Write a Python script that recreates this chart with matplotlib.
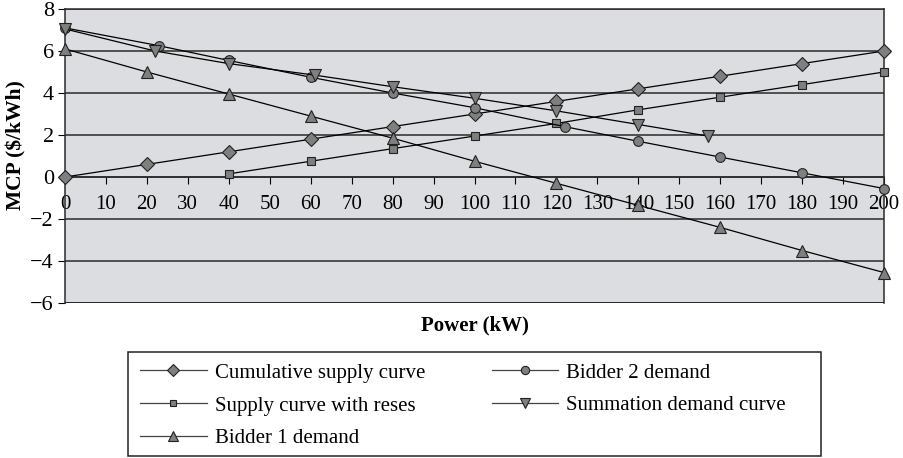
import matplotlib
matplotlib.use("Agg")
import matplotlib.pyplot as plt
from matplotlib.patches import Rectangle

plt.rcParams["font.family"] = ["Liberation Serif", "DejaVu Serif"]

# Curves of market clearing price vs power
cum_x = [0, 20, 40, 60, 80, 100, 120, 140, 160, 180, 200]
cum_y = [0.0, 0.6, 1.2, 1.8, 2.4, 3.0, 3.6, 4.2, 4.8, 5.4, 6.0]

reses_x = [40, 60, 80, 100, 120, 140, 160, 180, 200]
reses_y = [0.15, 0.75, 1.35, 1.95, 2.55, 3.2, 3.8, 4.4, 5.0]

b1_x = [0, 20, 40, 60, 80, 100, 120, 140, 160, 180, 200]
b1_y = [6.1, 5.0, 3.95, 2.9, 1.85, 0.75, -0.3, -1.35, -2.4, -3.5, -4.55]

b2_x = [0, 23, 40, 60, 80, 100, 122, 140, 160, 180, 200]
b2_y = [7.1, 6.25, 5.55, 4.75, 4.0, 3.3, 2.4, 1.7, 0.95, 0.2, -0.55]

sum_x = [0, 22, 40, 61, 80, 100, 120, 140, 157]
sum_y = [7.05, 6.0, 5.4, 4.85, 4.3, 3.75, 3.15, 2.5, 1.95]

x_ticks = list(range(0, 201, 10))
y_ticks = [-6, -4, -2, 0, 2, 4, 6, 8]

W, H = 904, 458
fig = plt.figure(figsize=(W / 100, H / 100), dpi=100)
ax = fig.add_axes([65 / W, 1 - 303 / H, 819 / W, 294 / H])
ax.set_facecolor("#dcdde0")

mk = dict(color="black", lw=0.9, markerfacecolor="#7f7f7f",
          markeredgecolor="#222222", markeredgewidth=0.8, clip_on=False, zorder=3)
l_cum, = ax.plot(cum_x, cum_y, marker="D", ms=7.5, label="Cumulative supply curve", **mk)
l_res, = ax.plot(reses_x, reses_y, marker="s", ms=5.5, label="Supply curve with reses", **mk)
l_b1, = ax.plot(b1_x, b1_y, marker="^", ms=9, label="Bidder 1 demand", **mk)
l_b2, = ax.plot(b2_x, b2_y, marker="o", ms=7, label="Bidder 2 demand", **mk)
l_sum, = ax.plot(sum_x, sum_y, marker="v", ms=9, label="Summation demand curve", **mk)

ax.set_xlim(0, 200)
ax.set_ylim(-6, 8)
ax.set_yticks(y_ticks)
ax.set_yticklabels(["\u2212%d" % -v if v < 0 else str(v) for v in y_ticks])
ax.set_xticks(x_ticks)
ax.yaxis.grid(True, color="#2a2a2a", lw=1.1)
ax.set_axisbelow(True)

# x axis crosses at zero
ax.spines["bottom"].set_position(("data", 0))
for s in ax.spines.values():
    s.set_color("#2a2a2a")
    s.set_linewidth(1.1)
ax.axhline(-6, color="#2a2a2a", lw=1.4, zorder=0)

ax.tick_params(axis="y", labelsize=16, length=5, direction="out", pad=3)
ax.tick_params(axis="x", labelsize=15, length=5, direction="out", pad=8)
for lab in ax.get_xticklabels():
    lab.set_clip_on(False)

fig.text(16 / W, 1 - 145 / H, "MCP ($/kWh)", fontsize=15.5, fontweight="bold",
         rotation=90, ha="center", va="center")
fig.text(475 / W, 1 - 325 / H, "Power (kW)", fontsize=15, fontweight="bold",
         ha="center", va="center")

# legend box
fig.patches.append(Rectangle((128 / W, 1 - 456 / H), 693 / W, 104 / H,
                             transform=fig.transFigure, facecolor="white",
                             edgecolor="#222222", lw=1.1))
handles = [l_cum, l_res, l_b1, l_b2, l_sum]
leg = fig.legend(handles, [h.get_label() for h in handles],
                 loc="upper left", bbox_to_anchor=(140 / W, 1 - 363 / H),
                 ncol=2, fontsize=15, frameon=False,
                 handlelength=3.2, handletextpad=0.38, labelspacing=0.64,
                 columnspacing=3.2, borderpad=0, borderaxespad=0,
                 markerscale=0.85)
for h in leg.legend_handles:
    h.set_color("#444444")
    h.set_markeredgecolor("#222222")

fig.savefig("out.png", dpi=100)
